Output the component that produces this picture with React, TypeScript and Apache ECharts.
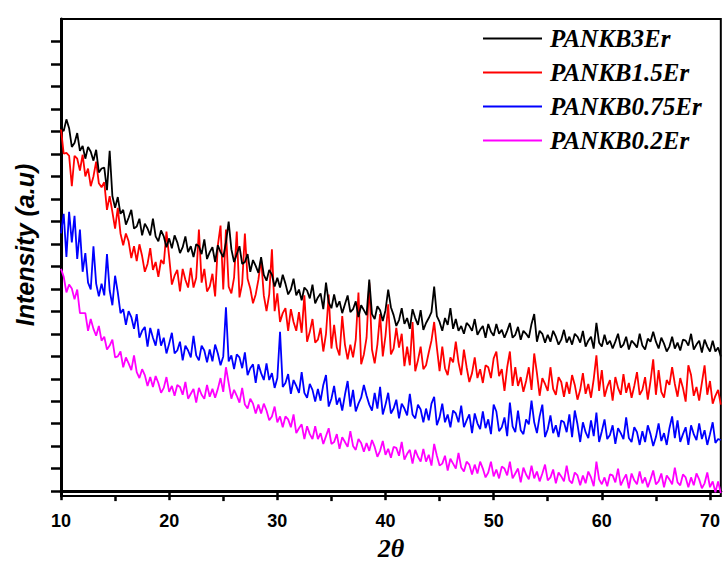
import React, { useEffect, useRef } from "react";
import * as echarts from "echarts";

// 2θ sampling (degrees)
const X_MIN = 10;
const X_MAX = 71;
const X_STEP = 0.25;

const SERIES_NAMES = ["PANKB3Er", "PANKB1.5Er", "PANKB0.75Er", "PANKB0.2Er"];
const SERIES_COLORS = ["#000000", "#ff0000", "#0000ff", "#ff00ff"];

const X_TICKS = [10, 20, 30, 40, 50, 60, 70];
const X_MINOR_TICKS = [15, 25, 35, 45, 55, 65];
const Y_TICKS = [0, 22.85, 45.7, 68.55, 91.4, 114.25, 137.1, 159.95, 182.8, 205.65, 228.5, 251.35, 274.2, 297.05, 319.9, 342.75, 365.6, 388.45, 411.3, 434.15, 457];

// intensities (a.u.), 4 samples per degree from 10 to 70.75, then 71
const PANKB3ER = [
  370, 366, 378, 369, 350, 354, 364, 346, 351, 338, 350, 345, 336, 347, 324, 328,
  329, 306, 346, 300, 288, 299, 282, 286, 271, 278, 286, 267, 269, 277, 260, 272,
  267, 260, 277, 259, 254, 265, 259, 248, 257, 247, 260, 253, 242, 248, 259, 243,
  249, 238, 251, 249, 241, 256, 236, 243, 248, 233, 250, 243, 238, 253, 274, 246,
  233, 241, 249, 231, 233, 241, 223, 235, 229, 222, 238, 220, 214, 225, 220, 208,
  217, 207, 220, 211, 200, 205, 216, 199, 205, 194, 207, 204, 196, 210, 191, 197,
  201, 185, 212, 192, 186, 200, 187, 193, 181, 190, 199, 182, 185, 193, 177, 189,
  184, 179, 215, 180, 175, 188, 184, 173, 184, 205, 187, 179, 168, 174, 186, 170,
  176, 165, 185, 176, 169, 184, 164, 171, 176, 182, 208, 178, 172, 163, 176, 169,
  186, 165, 175, 163, 168, 160, 171, 168, 163, 175, 159, 164, 168, 156, 170, 162,
  158, 170, 160, 164, 156, 163, 171, 156, 159, 167, 154, 163, 160, 156, 170, 180,
  152, 163, 160, 151, 159, 152, 163, 157, 149, 154, 164, 151, 157, 149, 160, 157,
  151, 163, 147, 153, 157, 145, 171, 151, 147, 159, 149, 153, 145, 152, 160, 146,
  149, 157, 144, 153, 150, 146, 160, 148, 144, 155, 152, 162, 152, 145, 156, 150,
  142, 147, 157, 145, 151, 143, 154, 153, 148, 160, 144, 149, 153, 141, 154, 147,
  142, 153, 142, 146, 137,
];

const PANKB1_5ER = [
  368, 343, 344, 341, 310, 341, 338, 326, 342, 320, 328, 310, 320, 335, 313, 309,
  314, 286, 300, 284, 267, 288, 262, 250, 262, 254, 237, 249, 234, 251, 239, 223,
  231, 247, 225, 233, 218, 235, 231, 264, 238, 210, 219, 225, 203, 226, 215, 207,
  227, 207, 217, 266, 212, 226, 203, 208, 221, 198, 250, 270, 205, 266, 208, 201,
  217, 264, 197, 211, 262, 216, 206, 191, 200, 215, 236, 199, 183, 200, 246, 183,
  201, 172, 181, 186, 163, 185, 172, 163, 182, 161, 199, 152, 162, 175, 151, 154,
  166, 142, 160, 200, 145, 169, 146, 138, 178, 149, 134, 149, 136, 154, 202, 129,
  139, 156, 212, 144, 130, 149, 180, 137, 158, 190, 139, 145, 166, 146, 160, 127,
  147, 128, 172, 122, 133, 147, 124, 128, 141, 153, 172, 146, 122, 147, 125, 118,
  136, 131, 152, 131, 118, 144, 126, 111, 120, 136, 115, 124, 110, 128, 126, 115,
  135, 142, 117, 124, 102, 126, 142, 107, 126, 107, 116, 101, 112, 126, 103, 140,
  120, 97, 115, 109, 102, 126, 104, 98, 116, 111, 96, 111, 99, 118, 108, 93,
  103, 120, 99, 109, 95, 114, 138, 102, 123, 96, 106, 113, 92, 116, 105, 98,
  119, 100, 110, 95, 107, 121, 98, 103, 116, 93, 112, 134, 98, 123, 101, 95,
  113, 108, 126, 109, 96, 115, 105, 91, 128, 118, 97, 106, 92, 110, 128, 98,
  112, 89, 97, 103, 88,
];

const PANKB0_75ER = [
  262, 282, 238, 284, 253, 280, 236, 266, 223, 242, 212, 205, 249, 211, 198, 211,
  199, 241, 204, 189, 219, 202, 181, 185, 169, 183, 177, 165, 180, 156, 163, 167,
  147, 166, 156, 148, 165, 148, 156, 140, 150, 161, 140, 143, 152, 133, 148, 143,
  136, 158, 138, 133, 148, 143, 131, 144, 132, 149, 140, 128, 137, 187, 132, 138,
  124, 139, 136, 125, 141, 118, 125, 129, 110, 129, 120, 113, 130, 113, 120, 105,
  115, 162, 106, 110, 119, 99, 113, 107, 100, 121, 100, 95, 109, 103, 91, 104,
  92, 108, 118, 86, 94, 107, 88, 95, 82, 98, 112, 86, 103, 81, 89, 95,
  108, 97, 88, 82, 100, 84, 106, 78, 88, 100, 79, 84, 93, 74, 89, 84,
  77, 99, 78, 74, 88, 83, 70, 84, 72, 89, 96, 67, 75, 89, 70, 78,
  65, 82, 79, 70, 87, 65, 72, 78, 59, 79, 69, 63, 81, 64, 73, 58,
  88, 81, 61, 65, 75, 56, 90, 66, 60, 82, 62, 58, 73, 68, 92, 70,
  59, 76, 88, 55, 63, 77, 59, 67, 55, 72, 70, 60, 78, 55, 82, 68,
  50, 70, 60, 54, 72, 56, 80, 50, 61, 73, 53, 57, 67, 48, 64, 59,
  53, 75, 54, 50, 65, 60, 47, 61, 50, 67, 58, 46, 55, 69, 51, 59,
  47, 64, 76, 54, 72, 50, 58, 65, 47, 67, 58, 52, 69, 53, 62, 47,
  58, 70, 49, 53, 52,
];

const PANKB0_2ER = [
  226, 218, 202, 210, 206, 195, 205, 181, 181, 181, 163, 175, 165, 158, 168, 153,
  157, 144, 148, 154, 136, 137, 142, 126, 136, 130, 123, 138, 121, 115, 124, 118,
  107, 116, 106, 117, 110, 100, 105, 116, 101, 107, 97, 108, 106, 98, 111, 94,
  99, 104, 90, 105, 98, 94, 108, 96, 104, 95, 104, 115, 101, 126, 110, 94,
  103, 97, 90, 105, 88, 84, 94, 89, 79, 88, 79, 89, 82, 72, 76, 86,
  70, 76, 65, 76, 73, 65, 78, 59, 64, 68, 53, 66, 58, 53, 66, 53,
  59, 48, 56, 64, 48, 50, 58, 43, 55, 50, 45, 61, 46, 42, 53, 49,
  40, 49, 41, 52, 45, 35, 41, 51, 37, 43, 34, 45, 44, 36, 50, 32,
  38, 42, 28, 42, 35, 30, 43, 30, 37, 26, 48, 36, 26, 28, 36, 21,
  33, 28, 23, 39, 24, 20, 30, 27, 17, 27, 18, 30, 23, 14, 19, 30,
  15, 22, 13, 25, 23, 16, 30, 13, 18, 23, 9, 24, 17, 12, 26, 13,
  20, 10, 18, 27, 11, 14, 22, 8, 19, 15, 10, 26, 11, 8, 19, 16,
  6, 16, 8, 20, 14, 5, 30, 12, 7, 14, 5, 17, 16, 9, 23, 6,
  12, 17, 3, 18, 11, 7, 20, 8, 14, 4, 12, 21, 7, 10, 18, 4,
  16, 12, 7, 24, 9, 6, 17, 14, 4, 14, 6, 18, 12, 3, 8, 19,
  4, 10, -1, 10, -2,
];

const SERIES_VALUES = [PANKB3ER, PANKB1_5ER, PANKB0_75ER, PANKB0_2ER];

export default function App() {
  const ref = useRef<HTMLDivElement>(null);

  useEffect(() => {
    if (!ref.current) return;
    const chart = echarts.init(ref.current, undefined, { renderer: "svg" });

    const sampleCount = Math.round((X_MAX - X_MIN) / X_STEP) + 1;
    const xs: number[] = [];
    for (let i = 0; i < sampleCount; i++) xs.push(X_MIN + i * X_STEP);

    const series = SERIES_NAMES.map((name, k) => ({
      name,
      type: "line",
      xAxisIndex: 0,
      yAxisIndex: 0,
      showSymbol: false,
      symbol: "none",
      lineStyle: { color: SERIES_COLORS[k], width: 1.8 },
      itemStyle: { color: SERIES_COLORS[k] },
      data: SERIES_VALUES[k].map((v, i) => [xs[i], v]),
      z: 10 - k,
    }));

    chart.setOption({
      animation: false,
      backgroundColor: "#ffffff",
      grid: {
        left: 61,
        top: 19,
        width: 660,
        height: 485,
        show: true,
        borderColor: "#000",
        borderWidth: 2,
        backgroundColor: "transparent",
      },
      legend: {
        orient: "vertical",
        left: 483,
        top: 26,
        padding: 0,
        itemWidth: 59,
        itemHeight: 2,
        itemGap: 9,
        icon: "rect",
        data: SERIES_NAMES,
        textStyle: {
          fontFamily: "Liberation Serif",
          fontStyle: "italic",
          fontWeight: "bold",
          fontSize: 25,
          lineHeight: 24,
          color: "#000",
          padding: [0, 0, 0, 3],
        },
      },
      xAxis: [
        {
          type: "value",
          min: X_MIN,
          max: X_MAX,
          interval: 10,
          position: "bottom",
          splitLine: { show: false },
          axisLine: { show: true, lineStyle: { color: "#000", width: 3 } },
          axisTick: {
            show: true,
            inside: false,
            length: 9,
            customValues: X_TICKS,
            lineStyle: { color: "#000", width: 2.5 },
          },
          axisLabel: {
            show: true,
            customValues: X_TICKS,
            margin: 16,
            color: "#000",
            fontSize: 18,
            fontWeight: "bold",
            fontFamily: "Liberation Sans",
          },
          name: "2θ",
          nameLocation: "middle",
          nameGap: 33,
          nameTextStyle: {
            fontFamily: "Liberation Serif",
            fontStyle: "italic",
            fontWeight: "bold",
            fontSize: 26,
            color: "#000",
          },
        },
        {
          type: "value",
          min: X_MIN,
          max: X_MAX,
          interval: 10,
          position: "bottom",
          offset: 0,
          splitLine: { show: false },
          axisLine: { show: false },
          axisLabel: { show: false },
          axisTick: {
            show: true,
            inside: false,
            length: 5,
            customValues: X_MINOR_TICKS,
            lineStyle: { color: "#000", width: 2.5 },
          },
        },
      ],
      yAxis: {
        type: "value",
        min: -5,
        max: 480,
        splitLine: { show: false },
        axisLine: { show: true, lineStyle: { color: "#000", width: 3 } },
        axisTick: {
          show: true,
          inside: false,
          length: 10,
          customValues: Y_TICKS,
          lineStyle: { color: "#000", width: 2.5 },
        },
        axisLabel: { show: false },
      },
      graphic: [
        {
          type: "text",
          x: 25,
          y: 245,
          rotation: Math.PI / 2,
          style: {
            text: "Intensity (a.u)",
            fontFamily: "Liberation Sans",
            fontStyle: "italic",
            fontWeight: "bold",
            fontSize: 25,
            fill: "#000",
            align: "center",
            verticalAlign: "middle",
          },
        },
      ],
      series,
    });

    return () => chart.dispose();
  }, []);

  return (
    <div
      ref={ref}
      style={{ position: "absolute", left: 0, top: 0, width: 723, height: 566 }}
    />
  );
}
